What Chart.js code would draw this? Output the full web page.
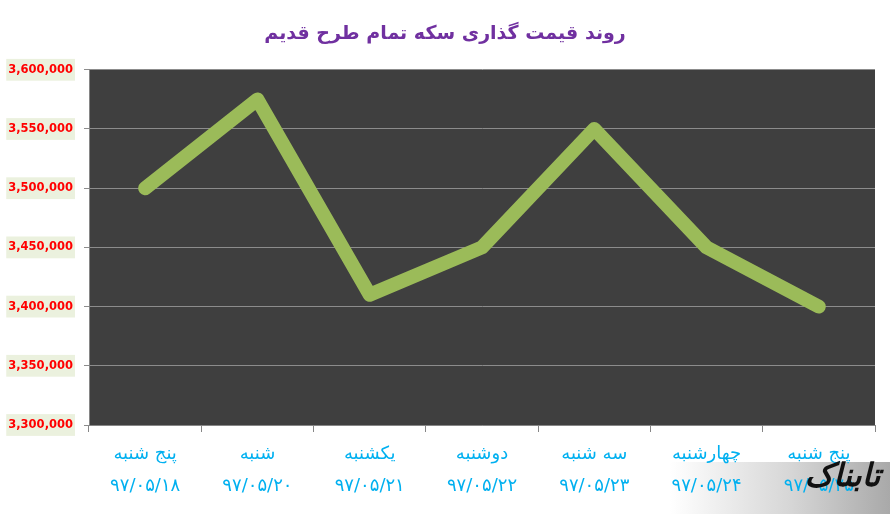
<!DOCTYPE html>
<html>
<head>
<meta charset="utf-8">
<script src="https://cdn.jsdelivr.net/npm/chart.js@4.4.0/dist/chart.umd.min.js"></script>
<style>
    html, body { margin: 0; padding: 0; background: #ffffff; }
    .wrap { position: relative; width: 890px; height: 514px; }
    .wm-bg {
        position: absolute; left: 670px; top: 462px; width: 220px; height: 52px;
        background: linear-gradient(to right, #ffffff 0%, #d6d6d6 55%, #a9a9a9 100%);
    }
    .wrap canvas { position: absolute; left: 0; top: 0; }
    .wm-logo {
        position: absolute; left: 795px; top: 456px; width: 95px; text-align: center;
        font-family: 'DejaVu Sans'; font-weight: bold; font-style: italic;
        font-size: 32px; color: #111; direction: rtl;
    }
</style>
</head>
<body>
<div class="wrap">
    <div class="wm-bg"></div>
    <canvas id="priceChart" width="890" height="514"></canvas>
    <div class="wm-logo">تابناک</div>
</div>
<script>
// ==========================================
// Data
// ==========================================
const dayNames = ['پنج شنبه', 'شنبه', 'یکشنبه', 'دوشنبه', 'سه شنبه', 'چهارشنبه', 'پنج شنبه'];
const dates = ['۹۷/۰۵/۱۸', '۹۷/۰۵/۲۰', '۹۷/۰۵/۲۱', '۹۷/۰۵/۲۲', '۹۷/۰۵/۲۳', '۹۷/۰۵/۲۴', '۹۷/۰۵/۲۵'];
const prices = [3500000, 3575000, 3410000, 3450000, 3550000, 3450000, 3400000];
const yMin = 3300000;
const yMax = 3600000;
const yStep = 50000;

const titleText = 'روند قیمت گذاری سکه تمام طرح قدیم';

// dark plot background
const plotBackground = {
    id: 'plotBackground',
    beforeDraw(chart) {
        const { ctx, chartArea } = chart;
        ctx.save();
        ctx.fillStyle = '#3f3f3f';
        ctx.fillRect(chartArea.left, chartArea.top, chartArea.right - chartArea.left, chartArea.bottom - chartArea.top);
        ctx.restore();
    }
};

new Chart(document.getElementById('priceChart'), {
    type: 'line',
    data: {
        labels: dayNames.map((d, i) => [d, dates[i]]),
        datasets: [{
            data: prices,
            borderColor: '#9bbb59',
            borderWidth: 14,
            borderCapStyle: 'round',
            borderJoinStyle: 'round',
            pointRadius: 0,
            tension: 0,
            fill: false
        }]
    },
    options: {
        responsive: false,
        animation: false,
        layout: { padding: 0 },
        plugins: {
            legend: { display: false },
            tooltip: { enabled: false },
            title: {
                display: true,
                text: titleText,
                color: '#7030a0',
                font: { family: 'DejaVu Sans', size: 19, weight: 'bold' },
                padding: { top: 23, bottom: 24 }
            }
        },
        scales: {
            x: {
                offset: true,
                grid: {
                    offset: true,
                    drawOnChartArea: false,
                    drawTicks: true,
                    tickLength: 7,
                    color: '#868686'
                },
                border: { color: '#868686', width: 1 },
                ticks: {
                    color: '#00b0f0',
                    padding: 6,
                    maxRotation: 0,
                    autoSkip: false,
                    font: { family: 'DejaVu Sans', size: 18, lineHeight: 1.8 }
                },
                afterFit(scale) { scale.height = 89; }
            },
            y: {
                min: yMin,
                max: yMax,
                grid: {
                    color: '#8c8c8c',
                    lineWidth: 1,
                    tickLength: 5
                },
                border: { color: '#868686', width: 1 },
                ticks: {
                    stepSize: yStep,
                    color: '#ff0000',
                    padding: 11,
                    font: { family: 'DejaVu Sans', size: 11.5, weight: 'bold' },
                    showLabelBackdrop: true,
                    backdropColor: '#ebf1de',
                    backdropPadding: { top: 4, bottom: 4, left: 2, right: 2 },
                    callback: function(value) { return value.toLocaleString('en-US'); }
                },
                afterFit(scale) { scale.width = 89; }
            },
            // empty right-side spacer so the title stays centred on the full width
            spacer: {
                type: 'linear',
                position: 'right',
                grid: { display: false },
                border: { display: false },
                ticks: { display: false },
                afterFit(scale) { scale.width = 15; }
            }
        }
    },
    plugins: [plotBackground]
});
</script>
</body>
</html>
